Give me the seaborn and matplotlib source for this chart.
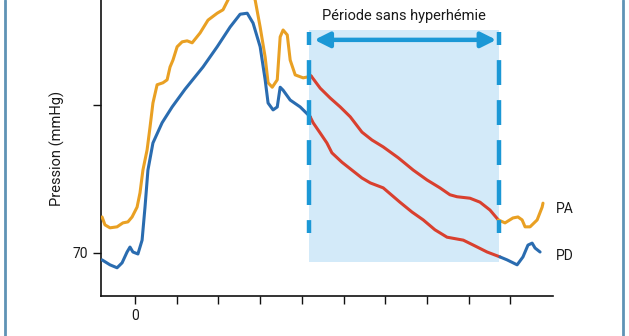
import matplotlib
matplotlib.use("Agg")
import matplotlib.pyplot as plt
from matplotlib.lines import Line2D
import seaborn as sns
import pandas as pd

# ---- data (time units, mmHg) ----
pa_pre_x = [-0.79, -0.72, -0.60, -0.43, -0.29, -0.17, -0.07, 0.05, 0.12, 0.19, 0.29, 0.36, 0.43,
            0.53, 0.67, 0.77, 0.84, 0.91, 1.01, 1.13, 1.25, 1.37, 1.56, 1.75, 1.97, 2.11, 2.23,
            2.40, 2.64, 2.81, 2.88, 3.00, 3.12, 3.19, 3.29, 3.41, 3.48, 3.55, 3.65, 3.72, 3.84,
            4.03, 4.15, 4.22]
pa_pre_y = [77.3, 75.7, 75.1, 75.3, 76.1, 76.3, 77.3, 79.3, 82.2, 86.8, 90.9, 95.5, 100.4,
            104.1, 104.5, 105.1, 107.7, 109.1, 111.8, 112.8, 113.0, 112.6, 114.6, 117.2, 118.6, 119.3, 121.3,
            123.7, 124.5, 122.3, 121.3, 115.8, 109.7, 104.5, 103.6, 105.1, 113.8, 115.2, 114.2, 109.1, 106.1,
            105.5, 105.7, 105.9]
pa_mid_x = [4.22, 4.44, 4.68, 4.92, 5.16, 5.44, 5.68, 5.95, 6.31, 6.67, 7.00, 7.31, 7.55, 7.72,
            8.03, 8.27, 8.51, 8.71]
pa_mid_y = [105.9, 103.4, 101.4, 99.6, 97.6, 94.5, 92.9, 91.5, 89.3, 86.8, 84.8, 83.2, 81.8, 81.4,
            81.1, 80.3, 78.7, 76.7]
pa_post_x = [8.71, 8.87, 9.06, 9.18, 9.28, 9.35, 9.47, 9.64, 9.76, 9.78]
pa_post_y = [76.7, 76.1, 77.1, 77.3, 76.7, 75.3, 75.3, 76.7, 79.3, 80.1]

pd_pre_x = [-0.79, -0.60, -0.43, -0.31, -0.19, -0.12, -0.05, 0.07, 0.17, 0.24, 0.31, 0.43, 0.65,
            0.89, 1.20, 1.63, 1.97, 2.28, 2.52, 2.69, 2.83, 3.00, 3.12, 3.19, 3.31, 3.41, 3.48,
            3.55, 3.72, 3.96, 4.20]
pd_pre_y = [68.6, 67.6, 67.0, 68.0, 70.2, 71.2, 70.2, 69.8, 72.6, 79.3, 86.8, 92.3, 96.4,
            99.6, 103.2, 107.7, 111.8, 115.8, 118.4, 118.6, 116.6, 111.8, 105.1, 100.4, 99.0, 99.6, 103.6,
            103.0, 101.0, 99.6, 97.6]
pd_mid_x = [4.20, 4.27, 4.44, 4.60, 4.72, 4.96, 5.20, 5.44, 5.64, 5.95, 6.35, 6.64, 6.91, 7.19,
            7.48, 7.87, 8.11, 8.44, 8.75]
pd_mid_y = [97.6, 96.4, 94.3, 92.3, 90.3, 88.4, 86.8, 85.2, 84.2, 83.2, 80.3, 78.3, 76.7, 74.7,
            73.2, 72.6, 71.6, 70.2, 69.2]
pd_post_x = [8.75, 8.92, 9.16, 9.30, 9.42, 9.52, 9.59, 9.71]
pd_post_y = [69.2, 68.6, 67.6, 69.2, 71.6, 72.0, 71.0, 70.2]

x_ticks = [0, 1, 2, 3, 4, 5, 6, 7, 8, 9]
x_tick_labels = ["0", "", "", "", "", "", "", "", "", ""]
y_ticks = [70, 100]
y_tick_labels = ["70", ""]
period_start, period_end = 4.17, 8.73
period_label = "Période sans hyperhémie"
series_labels = ["PA", "PD"]
y_label = "Pression (mmHg)"

# ---- styling ----
sns.set_style("ticks")
plt.rcParams['font.family'] = ['Roboto', 'DejaVu Sans']

ORANGE = "#e9a023"
BLUE = "#2a6cb0"
RED = "#d9402f"
SHADE = "#d3eaf9"
CYAN = "#1b98d6"
FRAME = "#5f93b5"

fig = plt.figure(figsize=(6.29, 3.36), dpi=100)
ax = fig.add_axes([101 / 629, 40 / 336, 452 / 629, 296 / 336])

ax.set_xlim(-0.815, 10.02)
ax.set_ylim(61.28, 121.28)

# shaded period
ax.fill_between([period_start, period_end], 68.2, 115.1, color=SHADE, lw=0, zorder=0)

lw = 2.2
segs = [(pa_pre_x, pa_pre_y, ORANGE), (pa_mid_x, pa_mid_y, RED), (pa_post_x, pa_post_y, ORANGE),
        (pd_pre_x, pd_pre_y, BLUE), (pd_mid_x, pd_mid_y, RED), (pd_post_x, pd_post_y, BLUE)]
for xs, ys, c in segs:
    df = pd.DataFrame({"t": xs, "p": ys})
    sns.lineplot(data=df, x="t", y="p", ax=ax, color=c, linewidth=lw, sort=False,
                 estimator=None, solid_capstyle="round", solid_joinstyle="round", zorder=3)

# dashed period borders
dlw = 3.2
for xv in (period_start, period_end):
    ax.plot([xv, xv], [74.1, 114.8], color=CYAN, linewidth=dlw,
            linestyle=(2.7, (5.6, 3.4)), solid_capstyle="butt", zorder=4)

# double arrow
ax.annotate("", xy=(4.30, 113.2), xytext=(8.66, 113.2),
            arrowprops=dict(arrowstyle="<|-|>,head_length=0.9,head_width=0.45",
                            color=CYAN, lw=3.2, shrinkA=0, shrinkB=0), zorder=5)
ax.text((period_start + period_end) / 2, 118.0, period_label, ha="center", va="center",
        fontsize=10.5, color="#1a1a1a")

# series labels
ax.text(10.1, 79.0, series_labels[0], ha="left", va="center", fontsize=10, color="#1a1a1a",
        clip_on=False)
ax.text(10.1, 69.3, series_labels[1], ha="left", va="center", fontsize=10, color="#1a1a1a",
        clip_on=False)

ax.set_xticks(x_ticks)
ax.set_xticklabels(x_tick_labels)
ax.set_yticks(y_ticks)
ax.set_yticklabels(y_tick_labels)
ax.tick_params(axis="both", direction="out", length=5.5, width=1.0, color="#111111",
               labelsize=10, labelcolor="#1a1a1a", pad=4)
ax.set_xlabel("")
ax.set_ylabel(y_label, fontsize=10.5, color="#1a1a1a", labelpad=5)
for side in ("top", "right"):
    ax.spines[side].set_visible(False)
for side in ("left", "bottom"):
    ax.spines[side].set_linewidth(1.2)
    ax.spines[side].set_color("#111111")

# figure frame side lines
fig.add_artist(Line2D([5 / 629, 5 / 629], [0, 1], transform=fig.transFigure, color=FRAME, lw=2.0))
fig.add_artist(Line2D([623 / 629, 623 / 629], [0, 1], transform=fig.transFigure, color=FRAME, lw=2.0))

fig.savefig("out.png", dpi=100)
